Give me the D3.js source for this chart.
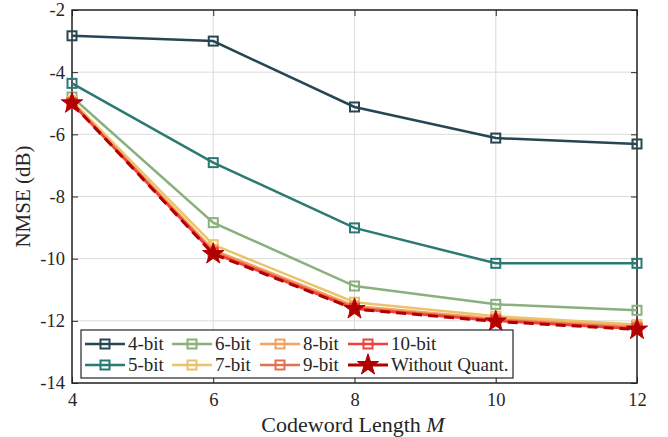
<!DOCTYPE html>
<html><head><meta charset="utf-8">
<script src="https://cdn.jsdelivr.net/npm/d3@7"></script>
<style>body{margin:0;background:#fff;} svg text{font-family:"Liberation Serif","Times New Roman",Times,serif;}</style>
</head><body>
<svg id="chart" width="668" height="437"></svg>
<script>
const codewordLengths = [4, 6, 8, 10, 12];
const seriesNames = ["4-bit","5-bit","6-bit","7-bit","8-bit","9-bit","10-bit","Without Quant."];
const seriesColors = ["#264653","#2a7a72","#8ab17d","#e9c46a","#f4a261","#e76f51","#f0403c","#b00000"];
const bit4  = [-2.83, -3.0, -5.12, -6.12, -6.31];
const bit5  = [-4.36, -6.91, -9.01, -10.15, -10.15];
const bit6  = [-4.8, -8.84, -10.88, -11.47, -11.66];
const bit7  = [-4.92, -9.55, -11.4, -11.85, -12.12];
const bit8  = [-4.97, -9.72, -11.52, -11.93, -12.18];
const bit9  = [-4.99, -9.78, -11.58, -11.97, -12.23];
const bit10 = [-5.0, -9.82, -11.61, -12.0, -12.26];
const noQuant = [-5.0, -9.85, -11.62, -12.02, -12.28];
const allSeries = [bit4, bit5, bit6, bit7, bit8, bit9, bit10, noQuant];
const xTicks = [4, 6, 8, 10, 12];
const yTicks = [-2, -4, -6, -8, -10, -12, -14];

const svg = d3.select("#chart");
const m = {l:72, r:637, t:10, b:383};
const x = d3.scaleLinear().domain([4,12]).range([m.l, m.r]);
const y = d3.scaleLinear().domain([-14,-2]).range([m.b, m.t]);

// grid
svg.append("g").selectAll("line").data(xTicks).join("line")
  .attr("x1", d=>x(d)).attr("x2", d=>x(d)).attr("y1", m.t).attr("y2", m.b)
  .attr("stroke", "#dcdcdc").attr("stroke-width", 1);
svg.append("g").selectAll("line").data(yTicks).join("line")
  .attr("x1", m.l).attr("x2", m.r).attr("y1", d=>y(d)).attr("y2", d=>y(d))
  .attr("stroke", "#dcdcdc").attr("stroke-width", 1);

// axes
const fmt = d => String(d);
const xAxis = d3.axisBottom(x).tickValues(xTicks).tickFormat(fmt).tickSizeInner(-6).tickSizeOuter(0).tickPadding(10);
const yAxis = d3.axisLeft(y).tickValues(yTicks).tickFormat(fmt).tickSizeInner(-6).tickSizeOuter(0).tickPadding(7);
const gx = svg.append("g").attr("transform", `translate(0,${m.b})`).call(xAxis);
const gy = svg.append("g").attr("transform", `translate(${m.l},0)`).call(yAxis);
const gx2 = svg.append("g").attr("transform", `translate(0,${m.t})`).call(d3.axisTop(x).tickValues(xTicks).tickSizeInner(-6).tickSizeOuter(0).tickFormat(""));
const gy2 = svg.append("g").attr("transform", `translate(${m.r},0)`).call(d3.axisRight(y).tickValues(yTicks).tickSizeInner(-6).tickSizeOuter(0).tickFormat(""));
[gx,gy,gx2,gy2].forEach(g=>{
  g.select(".domain").remove();
  g.selectAll("line").attr("stroke","#262626");
  g.selectAll("text").attr("font-size",18.5).attr("fill","#262626");
});
svg.append("rect").attr("x",m.l).attr("y",m.t).attr("width",m.r-m.l).attr("height",m.b-m.t)
  .attr("fill","none").attr("stroke","#262626").attr("stroke-width",1.5);

// titles
svg.append("text").attr("x",353).attr("y",432).attr("text-anchor","middle")
  .attr("font-size",22).attr("fill","#262626")
  .html('Codeword Length <tspan font-style="italic">M</tspan>');
svg.append("text").attr("transform",`translate(30,${(m.t+m.b)/2}) rotate(-90)`).attr("text-anchor","middle")
  .attr("font-size",21).attr("fill","#262626").text("NMSE (dB)");

const line = d3.line().x((d,i)=>x(codewordLengths[i])).y(d=>y(d));
const star = d3.symbol().type(d3.symbolStar).size(140);
const sq = 9;

allSeries.forEach((vals, k)=>{
  const g = svg.append("g");
  const c = seriesColors[k];
  const isNQ = k === 7;
  g.append("path").datum(vals).attr("d", line).attr("fill","none")
    .attr("stroke", c).attr("stroke-width", isNQ ? 3 : 2.5)
    .attr("stroke-dasharray", isNQ ? "10,6" : null);
  if (isNQ) {
    g.selectAll("path.m").data(vals).join("path").attr("class","m")
      .attr("d", star).attr("transform",(d,i)=>`translate(${x(codewordLengths[i])},${y(d)})`)
      .attr("fill", c).attr("stroke", c).attr("stroke-width",1);
  } else {
    g.selectAll("rect").data(vals).join("rect")
      .attr("x",(d,i)=>x(codewordLengths[i])-sq/2).attr("y",d=>y(d)-sq/2)
      .attr("width",sq).attr("height",sq).attr("fill","none")
      .attr("stroke", c).attr("stroke-width",2);
  }
});

// legend
const lg = svg.append("g");
lg.append("rect").attr("x",81).attr("y",330).attr("width",432).attr("height",48)
  .attr("fill","#fff").attr("stroke","#262626").attr("stroke-width",1.2);
const colX = [85, 172, 260, 348];
const rowY = [344, 365];
seriesNames.forEach((name,k)=>{
  const col = Math.floor(k/2), row = k%2;
  const x0 = colX[col], yy = rowY[row], c = seriesColors[k];
  const isNQ = k === 7;
  lg.append("line").attr("x1",x0).attr("x2",x0+40).attr("y1",yy).attr("y2",yy)
    .attr("stroke",c).attr("stroke-width", isNQ?3:2.5);
  if (isNQ) {
    lg.append("path").attr("d", star).attr("transform",`translate(${x0+20},${yy})`).attr("fill",c).attr("stroke",c);
  } else {
    lg.append("rect").attr("x",x0+20-sq/2).attr("y",yy-sq/2).attr("width",sq).attr("height",sq)
      .attr("fill","none").attr("stroke",c).attr("stroke-width",2);
  }
  lg.append("text").attr("x", x0 + 43).attr("y", yy+6).attr("font-size",19).attr("fill","#262626").text(name);
});
</script>
</body></html>
